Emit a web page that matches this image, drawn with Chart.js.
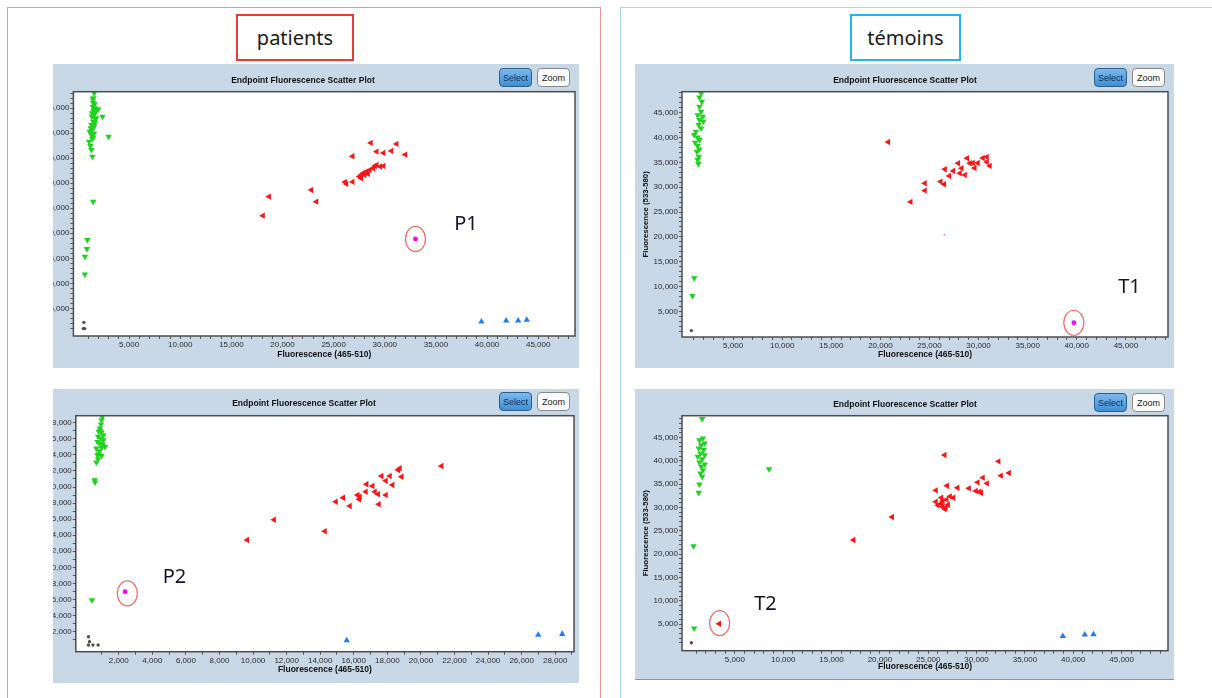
<!DOCTYPE html>
<html>
<head>
<meta charset="utf-8">
<script src="https://cdn.jsdelivr.net/npm/chart.js"></script>
<style>
  body { margin: 0; width: 1212px; height: 698px; background: #fff; position: relative; overflow: hidden; font-family: "Liberation Sans", Arial, sans-serif; }
  .panel { position: absolute; top: 7px; height: 720px; box-sizing: border-box; border: 1.5px solid; }
  .tag { position: absolute; top: 14px; height: 47px; box-sizing: border-box; border: 2px solid; font: 20px "Noto Sans", sans-serif; color: #1a1a1a; display: flex; align-items: center; justify-content: center; }
  .frame { position: absolute; background: #c8d8e7; overflow: hidden; }
  .frame canvas { position: absolute; top: 0; left: 0; }
  .head { position: absolute; transform: translate(-50%, -50%); font: bold 8.5px "Liberation Sans", Arial, sans-serif; color: #111; white-space: nowrap; }
  .btn { position: absolute; width: 33px; height: 19px; box-sizing: border-box; border-radius: 4px; font: 9px "Liberation Sans", Arial, sans-serif; display: flex; align-items: center; justify-content: center; }
  .sel { background: linear-gradient(#7db8ec, #3f8fd6); border: 1px solid #2b5f8e; color: #0d2a4a; }
  .zm { background: #fbfbfb; border: 1px solid #8a8a8a; color: #222; }
</style>
</head>
<body>

<div class="panel" style="left:7px;width:594px;border-color:#f29595"></div>
<div class="panel" style="left:620px;width:600px;border-color:#a3d9f0"></div>
<div class="tag" style="left:236px;width:118px;border-color:#e8393b">patients</div>
<div class="tag" style="left:850px;width:111px;border-color:#27b4ea">témoins</div>

<!-- the patient plots are cropped on the left, through the y tick labels -->
<div class="frame" style="left:53px;top:64px;width:526px;height:304px">
  <canvas id="cP1" width="552" height="304" style="left:-26px"></canvas>
  <div class="head" style="left:250px;top:16px">Endpoint Fluorescence Scatter Plot</div>
  <div class="btn sel" style="left:446px;top:4px">Select</div>
  <div class="btn zm" style="left:484px;top:4px">Zoom</div>
</div>

<div class="frame" style="left:53px;top:389px;width:526px;height:294px">
  <canvas id="cP2" width="552" height="294" style="left:-26px"></canvas>
  <div class="head" style="left:251px;top:14px">Endpoint Fluorescence Scatter Plot</div>
  <div class="btn sel" style="left:446px;top:3px">Select</div>
  <div class="btn zm" style="left:484px;top:3px">Zoom</div>
</div>

<div class="frame" style="left:635px;top:64px;width:539px;height:304px">
  <canvas id="cT1" width="539" height="304"></canvas>
  <div class="head" style="left:270px;top:16px">Endpoint Fluorescence Scatter Plot</div>
  <div class="btn sel" style="left:459px;top:4px">Select</div>
  <div class="btn zm" style="left:497px;top:4px">Zoom</div>
</div>

<div class="frame" style="left:635px;top:389px;width:539px;height:291px;box-shadow:inset 0 -1px 0 #7f98b0">
  <canvas id="cT2" width="539" height="291"></canvas>
  <div class="head" style="left:270px;top:15px">Endpoint Fluorescence Scatter Plot</div>
  <div class="btn sel" style="left:459px;top:4px">Select</div>
  <div class="btn zm" style="left:497px;top:4px">Zoom</div>
</div>

<script>
// tick labels
const ticks5k = [5000, 10000, 15000, 20000, 25000, 30000, 35000, 40000, 45000];
const ticks2k = [2000, 4000, 6000, 8000, 10000, 12000, 14000, 16000, 18000, 20000, 22000, 24000, 26000, 28000];

// patient P1  [x = 465-510, y = 533-580]
const p1Green = [[1580,48000],[1510,47000],[1450,46800],[1480,46130],[1440,45330],[1650,45000],[1620,45800],
  [1810,44670],[1980,44800],[1510,44530],[1650,44200],[1380,44000],[1580,43670],[1350,43300],[1750,43000],
  [2390,43330],[1710,42800],[1480,42330],[1650,42000],[1310,41670],[1580,41330],[1240,41000],[1380,40670],
  [1140,40330],[1560,40000],[1310,39670],[1480,39200],[1400,38900],[1080,38330],[1210,37470],[1310,36670],
  [2990,39330],[1410,35330],[1480,26330],[910,18670],[870,16870],[670,15330],[670,11800]];
const p1Red = [[18080,23530],[18680,27320],[22820,28660],[23310,26320],[26110,30270],[26240,29870],
  [26850,30270],[26850,35400],[27520,31330],[27690,31670],[27690,31000],[27860,32000],[28020,31670],
  [28190,32330],[28360,31870],[28530,32670],[28860,33000],[29030,33470],[29200,33670],[29540,33330],
  [29870,33470],[28630,38070],[29200,36330],[29870,36070],[30640,36470],[31150,37870],[32000,35730]];
const p1Blue = [[39450,2330],[41870,2530],[43040,2530],[43880,2670]];
const p1Pink = [[33000,18870]];
const p1Gray = [[570,2200],[520,950],[660,950]];

// patient P2
const p2Green = [[1015,28750],[975,28340],[935,27800],[870,27300],[810,26890],[975,26800],[1080,26470],
  [770,26270],[935,26060],[1080,25850],[730,25640],[870,25440],[1180,25020],[665,24810],[975,24900],
  [830,24480],[730,23980],[975,23900],[770,23490],[665,23070],[900,27000],[1050,25300],[800,24100],
  [565,20870],[585,20580],[400,5930]];
const p2Red = [[9650,13400],[11250,15930],[14276,14490],[14930,18175],[15366,18673],[15765,17640],
  [16224,19009],[16361,18797],[16319,18474],[16718,19420],[16760,20341],[17117,20129],[17254,19420],
  [17451,19096],[17492,17851],[17653,21374],[17909,19009],[17909,20789],[18148,21374],[18309,20254],
  [18642,22121],[18743,22333],[18844,21287],[21227,22619]];
const p2Blue = [[15580,910],[26990,1580],[28420,1700]];
const p2Pink = [[2370,6970]];
const p2Gray = [[195,1370],[255,750],[195,330],[460,330],[770,330]];

// témoin T1
const t1Green = [[1745,48900],[1570,48100],[1820,47220],[1570,46220],[1745,45210],[1390,44540],[1920,44210],
  [1570,43540],[1960,43200],[1500,42540],[1745,41870],[1210,41190],[1040,40520],[1390,40050],[1570,39520],
  [1140,38980],[1390,38310],[1570,37640],[1320,37170],[1500,36170],[1390,35500],[1460,34690],
  [1040,11700],[860,8150]];
const t1Red = [[20800,39100],[23078,27046],[24530,30806],[24530,29318],[26133,31128],[26500,30605],
  [26571,33622],[27009,32274],[27416,33280],[27926,34828],[28099,32817],[28272,33822],[28608,32475],
  [28842,35834],[29117,34828],[29420,34890],[29930,34890],[30440,35890],[30850,35090],[31150,34290],
  [30850,36090],[29600,33880]];
const t1Faint = [[26530,20430]];
const t1Pink = [[39700,2710]];
const t1Gray = [[750,1130]];

// témoin T2
const t2Green = [[1620,49000],[1690,44850],[1330,44490],[1870,43780],[1510,43420],[1260,42700],[1760,42350],
  [1440,41630],[1870,41270],[1150,40920],[1620,40410],[1330,39700],[1870,39270],[1510,38770],[1690,38050],
  [1440,37340],[1620,36620],[1330,34980],[1260,33190],[8530,38270],[720,21750],[790,4080]];
const t2Red = [[3380,5080],[17270,23030],[21260,27970],[25790,33690],[25790,31260],[26690,41270],
  [26940,34690],[28020,34260],[26000,30500],[26350,30850],[26500,30150],[26700,29700],[26900,31700],
  [27050,30600],[27250,32400],[27600,32100],[26350,32100],[26800,29900],[26500,31400],
  [29210,34120],[29930,33550],[30290,33400],[30470,33190],[30110,35410],[30650,36410],[31080,35190],
  [32270,39910],[32520,36840],[33350,37410]];
const t2Blue = [[38920,2430],[41190,2720],[42090,2790]];
const t2Gray = [[500,1000]];

Chart.defaults.font.family = '"Liberation Sans", Arial, sans-serif';

// white plot area with a dark frame
const plotBox = {
  id: 'plotBox',
  beforeDraw(chart) {
    const { ctx, chartArea: a } = chart;
    ctx.save();
    ctx.fillStyle = '#fff';
    ctx.fillRect(a.left, a.top, a.width, a.height);
    ctx.restore();
  },
  afterDraw(chart) {
    const { ctx, chartArea: a } = chart;
    ctx.save();
    ctx.strokeStyle = '#4d4d4d';
    ctx.lineWidth = 1.5;
    ctx.strokeRect(a.left, a.top, a.width, a.height);
    ctx.restore();
  }
};

// circled well + its name
const marks = {
  id: 'marks',
  afterDatasetsDraw(chart, args, opts) {
    if (!opts.ring) return;
    const { ctx, scales: { x, y } } = chart;
    ctx.save();
    ctx.strokeStyle = '#f06a6a';
    ctx.lineWidth = 1.2;
    ctx.beginPath();
    ctx.ellipse(x.getPixelForValue(opts.ring[0]), y.getPixelForValue(opts.ring[1]), 10, 12.5, 0, 0, Math.PI * 2);
    ctx.stroke();
    ctx.fillStyle = '#15152a';
    ctx.font = '20px "Noto Sans", sans-serif';
    ctx.textAlign = 'center';
    ctx.textBaseline = 'middle';
    ctx.fillText(opts.label, x.getPixelForValue(opts.at[0]), y.getPixelForValue(opts.at[1]));
    ctx.restore();
  }
};

function axis(pos, min, max, labels, thick, title) {
  const minor = 1000;
  return {
    type: 'linear',
    position: pos,
    min: min,
    max: max,
    afterBuildTicks(s) {
      const t = [];
      for (let v = Math.ceil(min / minor) * minor; v <= max; v += minor) {
        if (v > 0) t.push({ value: v });
      }
      s.ticks = t;
    },
    afterFit(s) {
      if (pos === 'left') s.width = thick; else s.height = thick;
    },
    ticks: {
      autoSkip: false,
      maxRotation: 0,
      padding: 1,
      color: '#2a2a2a',
      font: { size: 8 },
      callback: v => labels.includes(v) ? v.toLocaleString('en-US') : ''
    },
    grid: { drawOnChartArea: false, tickLength: 3, color: '#555', lineWidth: 1 },
    border: { display: false },
    title: {
      display: true,
      text: title,
      color: '#111',
      font: { size: pos === 'left' ? 7.8 : 8.5, weight: 'bold' },
      padding: pos === 'left' ? { top: 6, bottom: 0 } : { top: 0, bottom: 8 }
    }
  };
}

function pts(a) {
  return a.map(p => ({ x: p[0], y: p[1] }));
}

function plot(id, g, box) {
  const sets = [
    { data: pts(g.gray), pointStyle: 'circle', radius: 1.7, backgroundColor: '#505050', borderWidth: 0 },
    { data: pts(g.green), pointStyle: 'triangle', rotation: 180, radius: 3.7, backgroundColor: '#1ed31e', borderWidth: 0 },
    { data: pts(g.red), pointStyle: 'triangle', rotation: 270, radius: 3.7, backgroundColor: '#ff1414', borderWidth: 0 },
    { data: pts(g.blue || []), pointStyle: 'triangle', rotation: 0, radius: 3.7, backgroundColor: '#1f7ff2', borderWidth: 0 },
    { data: pts(g.pink || []), pointStyle: 'circle', radius: 2.4, backgroundColor: '#ff00ff', borderWidth: 0 },
    { data: pts(g.faint || []), pointStyle: 'circle', radius: 1, backgroundColor: 'rgba(255,60,60,0.6)', borderWidth: 0 }
  ];
  return new Chart(document.getElementById(id), {
    type: 'scatter',
    data: { datasets: sets },
    options: {
      responsive: false,
      animation: false,
      events: [],
      layout: { padding: { top: box.top, right: box.right, left: 0, bottom: 0 } },
      plugins: {
        legend: { display: false },
        tooltip: { enabled: false },
        marks: g.marks || {}
      },
      scales: {
        x: axis('bottom', box.x[0], box.x[1], box.xLabels, box.bottom, 'Fluorescence (465-510)'),
        y: axis('left', box.y[0], box.y[1], box.yLabels, box.left, 'Fluorescence (533-580)')
      }
    },
    plugins: [plotBox, marks]
  });
}

plot('cP1',
  { green: p1Green, red: p1Red, blue: p1Blue, pink: p1Pink, gray: p1Gray,
    marks: { ring: [33000, 18870], label: 'P1', at: [37940, 21700] } },
  { left: 46.4, top: 27.7, right: 3.2, bottom: 32, x: [-450, 48600], y: [-530, 48300], xLabels: ticks5k, yLabels: ticks5k });

plot('cP2',
  { green: p2Green, red: p2Red, blue: p2Blue, pink: p2Pink, gray: p2Gray,
    marks: { ring: [2510, 6760], label: 'P2', at: [5320, 8710] } },
  { left: 48.8, top: 26.7, right: 5, bottom: 31.3, x: [-560, 29120], y: [-500, 28880], xLabels: ticks2k, yLabels: ticks2k });

plot('cT1',
  { green: t1Green, red: t1Red, pink: t1Pink, gray: t1Gray, faint: t1Faint,
    marks: { ring: [39700, 2710], label: 'T1', at: [45360, 9830] } },
  { left: 47, top: 27.7, right: 6, bottom: 31, x: [-200, 49290], y: [-160, 49230], xLabels: ticks5k, yLabels: ticks5k });

plot('cT2',
  { green: t2Green, red: t2Red, blue: t2Blue, gray: t2Gray,
    marks: { ring: [3420, 5220], label: 'T2', at: [8170, 9230] } },
  { left: 47, top: 26.7, right: 6, bottom: 29.3, x: [-470, 49800], y: [-700, 49700], xLabels: ticks5k, yLabels: ticks5k });
</script>
</body>
</html>
